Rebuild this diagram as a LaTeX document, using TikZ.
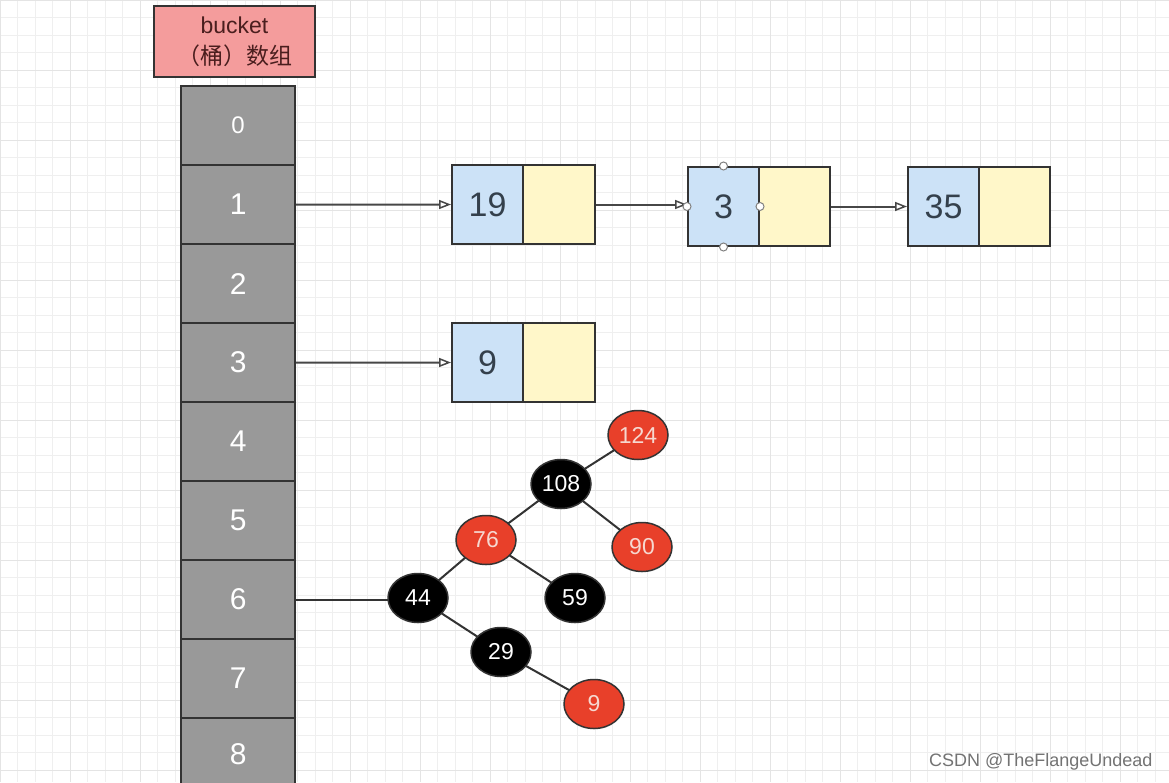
\documentclass[tikz,border=0pt]{standalone}
\usepackage{fontspec}
\setmainfont{Liberation Sans}
\newfontfamily\cjk{Noto Sans CJK SC}
\usetikzlibrary{arrows.meta,shapes.geometric}
\definecolor{gridc}{HTML}{EFEFEF}
\definecolor{gridmaj}{HTML}{E4E4E4}
\definecolor{pinkf}{HTML}{F49C9C}
\definecolor{cellg}{HTML}{999999}
\definecolor{edgec}{HTML}{333333}
\definecolor{bluef}{HTML}{CCE2F7}
\definecolor{yelf}{HTML}{FFF7C9}
\definecolor{redf}{HTML}{E8402A}
\definecolor{numc}{HTML}{34404C}
\definecolor{rtext}{HTML}{F6D8D0}
\definecolor{hdrtext}{HTML}{4A1E1E}
\tikzset{
  cellbox/.style={draw=edgec,line width=2.2pt,fill=cellg,minimum width=114pt,minimum height=79pt,inner sep=0pt,text=white,font=\fontsize{30}{30}\selectfont,anchor=north west},
  bluebox/.style={draw=edgec,line width=2pt,fill=bluef,minimum width=71pt,minimum height=79pt,inner sep=0pt,text=numc,font=\fontsize{34}{34}\selectfont,anchor=north west},
  yelbox/.style={draw=edgec,line width=2pt,fill=yelf,minimum width=72pt,minimum height=79pt,inner sep=0pt,anchor=north west},
  link/.style={draw=edgec!90,line width=2pt,-{Triangle[open,length=12pt,width=9pt,line width=1.5pt]}},
  rbnode/.style={ellipse,draw=edgec,line width=1.5pt,minimum width=60pt,minimum height=49pt,inner sep=0pt,font=\fontsize{23}{23}\selectfont},
  rnode/.style={rbnode,fill=redf,text=rtext},
  bnode/.style={rbnode,fill=black,text=white},
  tedge/.style={draw=edgec,line width=2pt},
  handle/.style={circle,draw=gray,line width=1pt,fill=white,minimum size=8pt,inner sep=0pt}
}
\begin{document}
\begin{tikzpicture}[x=1pt,y=-1pt]
\useasboundingbox (0,0) rectangle (1169,782);
\fill[white] (0,0) rectangle (1169,782);
% grid
\foreach \i in {0,...,67} {\draw[gridc,line width=0.6pt] (\i*17.5,0) -- (\i*17.5,782);}
\foreach \j in {0,...,45} {\draw[gridc,line width=0.6pt] (0,\j*17.5) -- (1169,\j*17.5);}
\foreach \i in {0,...,16} {\draw[gridmaj,line width=0.9pt] (\i*70,0) -- (\i*70,782);}
\foreach \j in {0,...,11} {\draw[gridmaj,line width=0.9pt] (0,\j*70) -- (1169,\j*70);}
% header
\node[draw=edgec,line width=2pt,fill=pinkf,minimum width=161pt,minimum height=71pt,anchor=north west,inner sep=0pt,align=center,text=hdrtext,font=\fontsize{23}{31}\selectfont] (hdr) at (153,5) {bucket\\{\cjk （桶）数组}};
% array cells
\node[cellbox,font=\fontsize{24}{24}\selectfont] (c0) at (180,85) {0};
\node[cellbox] (c1) at (180,164) {1};
\node[cellbox] (c2) at (180,243) {2};
\node[cellbox] (c3) at (180,322) {3};
\node[cellbox] (c4) at (180,401) {4};
\node[cellbox] (c5) at (180,480) {5};
\node[cellbox] (c6) at (180,559) {6};
\node[cellbox] (c7) at (180,638) {7};
\node[cellbox,minimum height=90pt] (c8) at (180,717) {\raisebox{18pt}{8}};
% list nodes
\node[bluebox] (n19) at (451,164) {19};
\node[yelbox] (n19p) at (522,164) {};
\node[bluebox] (n3) at (687,166) {3};
\node[yelbox,minimum width=71pt] (n3p) at (758,166) {};
\node[bluebox] (n35) at (907,166) {35};
\node[yelbox,minimum width=71pt] (n35p) at (978,166) {};
\node[bluebox] (n9) at (451,322) {9};
\node[yelbox] (n9p) at (522,322) {};
% links
\draw[link] (c1.east) -- (n19.west);
\draw[link] (n19p.east) -- (n19p.east -| n3.west);
\draw[link] (n3p.east) -- (n35.west);
\draw[link] (c3.east) -- (n9.west);
% handles on node 3
\node[handle] (h1) at (n3.north) {};
\node[handle] (h2) at (n3.south) {};
\node[handle] (h3) at (n3.west) {};
\node[handle] (h4) at (n3.east) {};
% tree positions
\coordinate (p124) at (638,435);
\coordinate (p108) at (561,484);
\coordinate (p76) at (486,540);
\coordinate (p90) at (642,547);
\coordinate (p44) at (418,598);
\coordinate (p59) at (575,598);
\coordinate (p29) at (501,652);
\coordinate (p9) at (594,704);
\draw[tedge] (p108) -- (p124);
\draw[tedge] (p108) -- (p90);
\draw[tedge] (p108) -- (p76);
\draw[tedge] (p76) -- (p44);
\draw[tedge] (p76) -- (p59);
\draw[tedge] (p44) -- (p29);
\draw[tedge] (p29) -- (p9);
\draw[tedge] (c6.east) -- (c6.east -| p44);
% tree nodes
\node[rnode] (a124) at (p124) {124};
\node[bnode] (a108) at (p108) {108};
\node[rnode] (a76) at (p76) {76};
\node[rnode] (a90) at (p90) {90};
\node[bnode] (a44) at (p44) {44};
\node[bnode] (a59) at (p59) {59};
\node[bnode] (a29) at (p29) {29};
\node[rnode] (a9) at (p9) {9};
% watermark
\node[anchor=east,text=black!55,font=\fontsize{18}{18}\selectfont] (wm) at (1156,762) {CSDN @TheFlangeUndead};
\end{tikzpicture}
\end{document}
